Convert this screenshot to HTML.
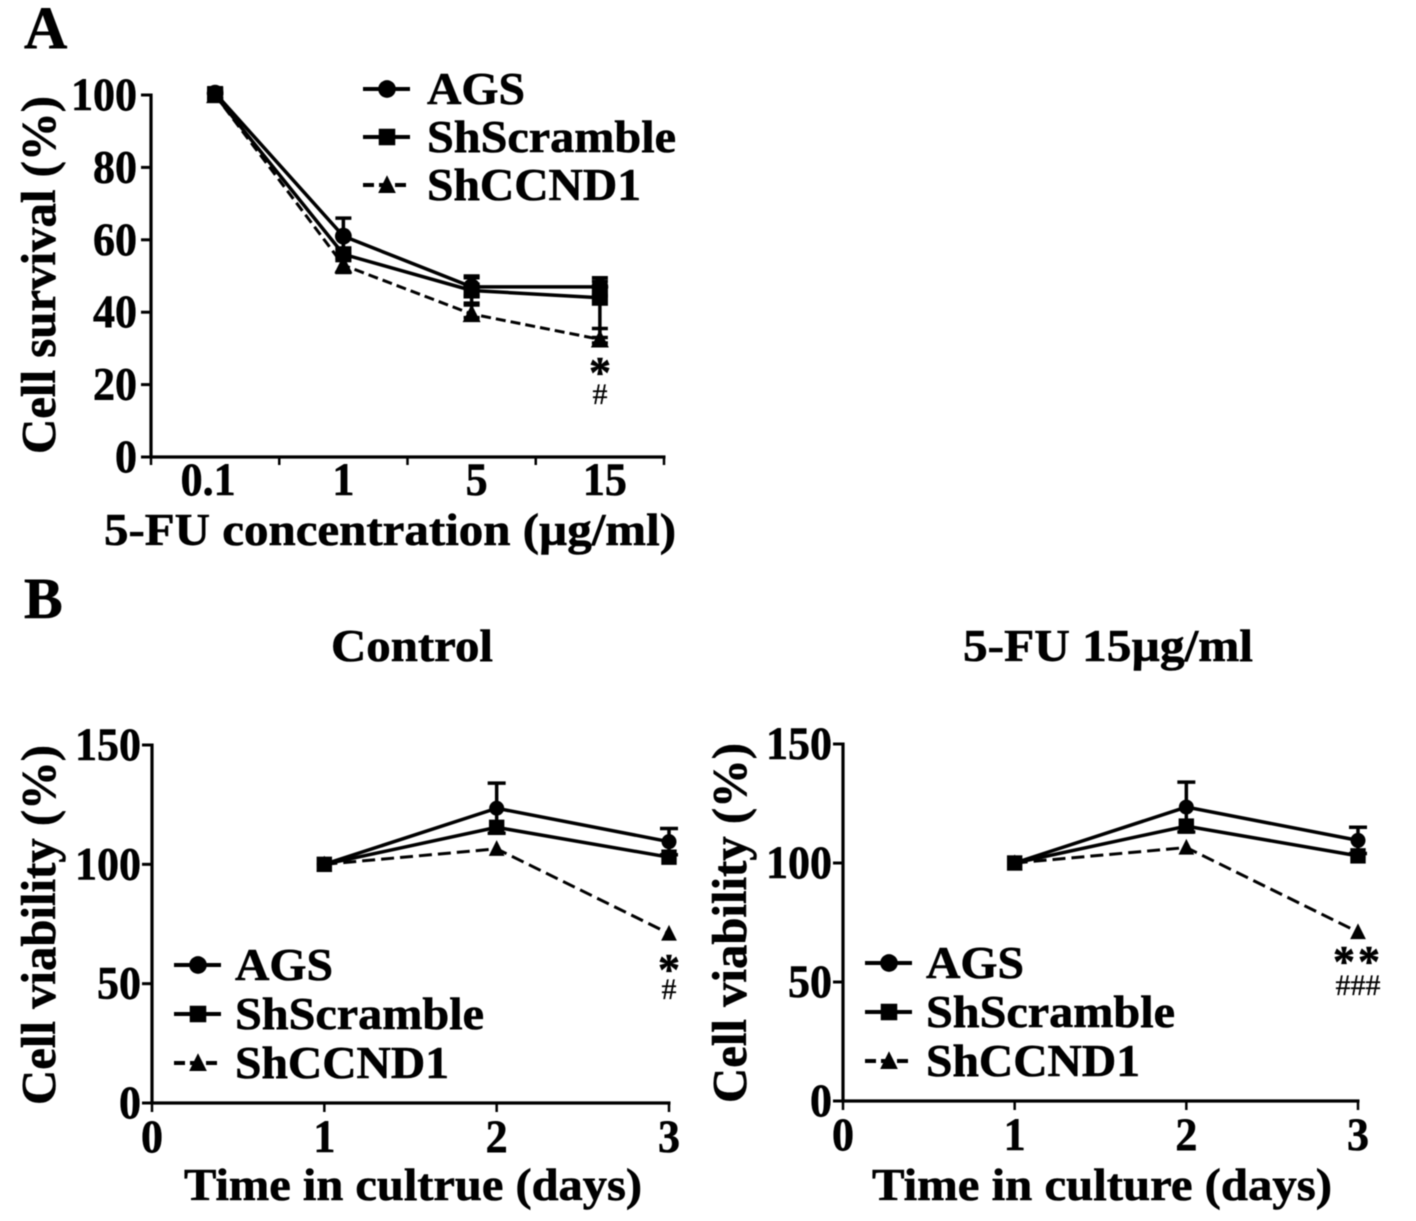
<!DOCTYPE html>
<html lang="en">
<head>
<meta charset="utf-8">
<title>Cell survival and viability charts</title>
<style>
html,body{margin:0;padding:0;background:#fff;}
svg{display:block;}
text{font-family:"Liberation Serif",serif;font-weight:bold;fill:#000;stroke:#000;stroke-width:.6px;}
</style>
</head>
<body>
<svg id="figure" xmlns="http://www.w3.org/2000/svg" width="1416" height="1221" viewBox="0 0 1416 1221" style="filter:blur(0.5px)">
  <rect width="1416" height="1221" fill="#fff"/>
  <text x="24" y="48" font-size="60">A</text>
  <text x="24" y="618" font-size="58">B</text>
  <text x="412" y="661" font-size="45" text-anchor="middle" textLength="162" lengthAdjust="spacingAndGlyphs">Control</text>
  <text x="1108" y="661" font-size="45" text-anchor="middle" textLength="290" lengthAdjust="spacingAndGlyphs">5-FU 15µg/ml</text>
  <g id="panelA"></g>
  <g id="panelB1"></g>
  <g id="panelB2"></g>
</svg>
<script>
const seriesNames = ['AGS', 'ShScramble', 'ShCCND1'];

const concCategories = ['0.1', '1', '5', '15'];
const concTicks = [0, 20, 40, 60, 80, 100];
const concAgs = [100.5, 61, 47, 47];
const concScramble = [100, 56, 46, 44];
const concCcnd = [100, 53, 39.5, 32.5];
const concAgsUp = [1.5, 5, 2.5, 2.5];
const concAgsDown = [1.5, 5, 2.5, 2.5];
const concScrambleUp = [1, 5, 4, 4.5];
const concScrambleDown = [1, 5, 4, 11];
const concCcndUp = [1, 2, 3, 3];
const concCcndDown = [1, 2, 1, 1];

const dayCategories = [0, 1, 2, 3];
const dayTicks = [0, 50, 100, 150];
const controlAgs = [100, 123.5, 109.5];
const controlScramble = [100, 115.5, 103];
const controlCcnd = [100, 106.5, 71];
const controlAgsErr = [0, 10.5, 5.5];
const controlScrambleErr = [0, 1.5, 1.5];
const controlCcndErr = [0, 1, 1];

const fuAgs = [100, 123.5, 109.5];
const fuScramble = [100, 115.5, 103];
const fuCcnd = [100, 106.5, 71];
const fuAgsErr = [0, 10.5, 5.5];
const fuScrambleErr = [0, 1.5, 1.5];
const fuCcndErr = [0, 1, 1];

const NS = 'http://www.w3.org/2000/svg';

function make(parent, tag, attrs, content) {
  const el = document.createElementNS(NS, tag);
  for (const k in attrs) el.setAttribute(k, attrs[k]);
  if (content !== undefined) el.textContent = content;
  parent.appendChild(el);
  return el;
}

function tickWidth(label) {
  return String(label).split('').reduce((w, c) => w + (c === '.' ? 11 : 22), 0);
}

function drawMarker(parent, kind, x, y, scale) {
  let el;
  if (kind === 0) {
    el = make(parent, 'circle', {cx: x, cy: y, r: 7.5 * scale, fill: '#000'});
  } else if (kind === 1) {
    const s = 7 * scale;
    el = make(parent, 'rect', {x: x - s, y: y - s, width: 2 * s, height: 2 * s, fill: '#000'});
  } else {
    const s = 7.5 * scale;
    el = make(parent, 'polygon', {points: `${x - s},${y + s * 0.9} ${x + s},${y + s * 0.9} ${x},${y - s * 1.1}`, fill: '#000'});
  }
  
  
}

function drawSeries(g, kind, xs, values, upper, lower, yScale, capHalf, markerScale, dash) {
  const pts = values.map((v, i) => `${xs(i)},${yScale(v)}`).join(' ');
  const line = make(g, 'polyline', {
    points: pts, fill: 'none', stroke: '#000',
    'stroke-width': kind === 2 ? 3 : 3.5,
    'stroke-dasharray': kind === 2 ? dash : 'none'
  });
  
  
  values.forEach((v, i) => {
    if (upper[i] > 0) {
      const px = xs(i);
      const top = yScale(v + upper[i]);
      const bot = yScale(v - lower[i]);
      const bar = make(g, 'path', {
        d: `M${px} ${top}V${bot}M${px - capHalf} ${top}H${px + capHalf}M${px - capHalf} ${bot}H${px + capHalf}`,
        stroke: '#000', 'stroke-width': 3.5, fill: 'none'
      });
      
      
    }
    drawMarker(g, kind, xs(i), yScale(v), markerScale);
  });
}

function drawLegend(g, lx, ly, textX, gap) {
  const widths = [98, 249, 214];
  seriesNames.forEach((name, i) => {
    const y = ly + i * gap;
    const item = make(g, 'g', {});
    
    
    make(item, 'line', {
      x1: lx, x2: lx + 47, y1: y, y2: y, stroke: '#000', 'stroke-width': 4,
      'stroke-dasharray': i === 2 ? '11 5' : 'none'
    });
    drawMarker(item, i, lx + 24, y, 1.18);
    make(item, 'text', {x: textX, y: y + 15, 'font-size': 46, textLength: widths[i], lengthAdjust: 'spacingAndGlyphs'}, name);
  });
}

function drawAxes(g, cfg) {
  const axis = make(g, 'path', {
    d: `M${cfg.x0} ${cfg.yTop - 1.5}V${cfg.y0 + 1.5}M${cfg.x0 - 1.5} ${cfg.y0}H${cfg.xEnd + 1.5}`,
    stroke: '#000', 'stroke-width': 3.2, fill: 'none'
  });
  
  
}

/* Panel A */
(function () {
  const g = document.getElementById('panelA');
  const x0 = 151, xEnd = 664, y0 = 457, yTop = 95;
  const band = (xEnd - x0) / concCategories.length;
  const xs = i => x0 + band * (i + 0.5);
  const yScale = v => y0 - (v / 100) * (y0 - yTop);
  drawAxes(g, {x0, xEnd, y0, yTop});
  concTicks.forEach(t => {
    const tick = make(g, 'line', {x1: x0 - 10, x2: x0, y1: yScale(t), y2: yScale(t), stroke: '#000', 'stroke-width': 3});
    
    
    const label = make(g, 'text', {x: 137, y: yScale(t) + 15, 'font-size': 47, 'text-anchor': 'end', textLength: tickWidth(t), lengthAdjust: 'spacingAndGlyphs'}, t);
    
    
  });
  for (let i = 0; i <= concCategories.length; i++) {
    const px = x0 + band * i;
    const tick = make(g, 'line', {x1: px, x2: px, y1: y0, y2: y0 + 8, stroke: '#000', 'stroke-width': 2.5});
    
    
  }
  concCategories.forEach((c, i) => {
    const label = make(g, 'text', {x: xs(i) + (i === 0 ? -7 : i === 1 ? 0 : 5), y: 495, 'font-size': 47, 'text-anchor': 'middle', textLength: tickWidth(c), lengthAdjust: 'spacingAndGlyphs'}, c);
    
    
  });
  drawSeries(g, 2, xs, concCcnd, concCcndUp, concCcndDown, yScale, 8, 1.2, '10 5');
  drawSeries(g, 1, xs, concScramble, concScrambleUp, concScrambleDown, yScale, 8, 1.15, 'none');
  drawSeries(g, 0, xs, concAgs, concAgsUp, concAgsDown, yScale, 8, 1.12, 'none');
  drawLegend(g, 363, 89, 427, 48);
  const star = make(g, 'text', {x: 600, y: 387, 'font-size': 44, 'text-anchor': 'middle'}, '*');
  
  
  const hash = make(g, 'text', {x: 600, y: 404, 'font-size': 30, 'text-anchor': 'middle', style: 'font-weight:normal;stroke-width:.3px'}, '#');
  
  
  const yTitle = make(g, 'text', {transform: 'translate(55,275) rotate(-90)', 'font-size': 49, 'text-anchor': 'middle', textLength: 358, lengthAdjust: 'spacingAndGlyphs'}, 'Cell survival (%)');
  
  
  const xTitle = make(g, 'text', {x: 390, y: 545, 'font-size': 45, 'text-anchor': 'middle', textLength: 572, lengthAdjust: 'spacingAndGlyphs'}, '5-FU concentration (µg/ml)');
  
  
})();

/* Panel B line charts */
function drawDayPanel(id, cfg, ags, scr, ccnd, agsErr, scrErr, ccndErr, xLabel, stars, hashes) {
  const g = document.getElementById(id);
  const {x0, xEnd, y0, yTop} = cfg;
  const xDay = d => x0 + (d / 3) * (xEnd - x0);
  const xs = i => xDay(i + 1);
  const yScale = v => y0 - (v / 150) * (y0 - yTop);
  drawAxes(g, {x0, xEnd, y0, yTop});
  dayTicks.forEach(t => {
    const tick = make(g, 'line', {x1: x0 - 10, x2: x0, y1: yScale(t), y2: yScale(t), stroke: '#000', 'stroke-width': 3});
    
    
    const label = make(g, 'text', {x: x0 - 11, y: yScale(t) + 15, 'font-size': 47, 'text-anchor': 'end', textLength: tickWidth(t), lengthAdjust: 'spacingAndGlyphs'}, t);
    
    
  });
  dayCategories.forEach(d => {
    const tick = make(g, 'line', {x1: xDay(d), x2: xDay(d), y1: y0, y2: y0 + 9, stroke: '#000', 'stroke-width': 2.5});
    
    
    const label = make(g, 'text', {x: xDay(d), y: y0 + 49, 'font-size': 47, 'text-anchor': 'middle', textLength: tickWidth(d), lengthAdjust: 'spacingAndGlyphs'}, d);
    
    
  });
  drawSeries(g, 2, xs, ccnd, ccndErr, ccndErr, yScale, 0.1, 1.05, '13 6');
  drawSeries(g, 1, xs, scr, scrErr, scrErr, yScale, 6, 1.1, 'none');
  drawSeries(g, 0, xs, ags, agsErr, agsErr, yScale, 9, 1, 'none');
  drawLegend(g, x0 + 22, y0 - 138, x0 + 83, 49);
  const star = make(g, 'text', {x: xEnd, y: cfg.starY, 'font-size': 44, 'text-anchor': 'middle', 'letter-spacing': stars.length > 1 ? 3 : 0}, stars);
  
  
  const hash = make(g, 'text', {x: xEnd, y: cfg.hashY, 'font-size': 30, 'text-anchor': 'middle', style: 'font-weight:normal;stroke-width:.3px'}, hashes);
  
  
  const yTitle = make(g, 'text', {transform: `translate(${x0 - 97},${y0 - 178}) rotate(-90)`, 'font-size': 49, 'text-anchor': 'middle', textLength: 360, lengthAdjust: 'spacingAndGlyphs'}, 'Cell viability (%)');
  
  
  const xTitle = make(g, 'text', {x: cfg.titleX, y: 1200, 'font-size': 45, 'text-anchor': 'middle', textLength: cfg.titleW, lengthAdjust: 'spacingAndGlyphs'}, xLabel);
  
  
}

drawDayPanel('panelB1', {x0: 152, xEnd: 669, y0: 1103, yTop: 745, titleX: 413, titleW: 458, starY: 984, hashY: 999},
  controlAgs, controlScramble, controlCcnd, controlAgsErr, controlScrambleErr, controlCcndErr,
  'Time in cultrue (days)', '*', '#');
drawDayPanel('panelB2', {x0: 843, xEnd: 1358, y0: 1101, yTop: 744, titleX: 1102, titleW: 460, starY: 976, hashY: 995},
  fuAgs, fuScramble, fuCcnd, fuAgsErr, fuScrambleErr, fuCcndErr,
  'Time in culture (days)', '**', '###');
</script>
</body>
</html>
